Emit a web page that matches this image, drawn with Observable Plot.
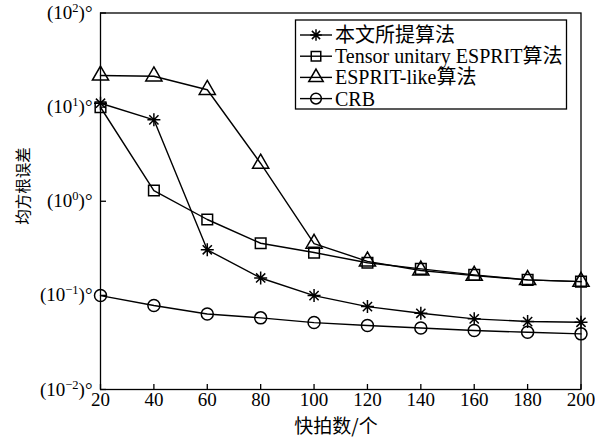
<!DOCTYPE html>
<html><head><meta charset="utf-8">
<script src="https://cdn.jsdelivr.net/npm/d3@7"></script>
<script src="https://cdn.jsdelivr.net/npm/@observablehq/plot@0.6"></script>
<style>
body{margin:0;background:#fff;}
</style></head><body><div id="chart"></div>
<script>
// ---- data ----
const snapshots = [20, 40, 60, 80, 100, 120, 140, 160, 180, 200];
const seriesNames = ["本文所提算法", "Tensor unitary ESPRIT算法", "ESPRIT-like算法", "CRB"];
const proposed      = [11.0, 7.33, 0.305, 0.153, 0.0995, 0.076, 0.0645, 0.0563, 0.0527, 0.0518];
const tensorUnitary = [9.97, 1.30, 0.64, 0.358, 0.285, 0.222, 0.191, 0.165, 0.146, 0.140];
const espritLike    = [21.7, 21.3, 15.3, 2.52, 0.355, 0.230, 0.184, 0.162, 0.146, 0.140];
const crb           = [0.0995, 0.078, 0.0635, 0.0577, 0.0514, 0.0478, 0.0451, 0.0423, 0.0405, 0.039];
const xTicks = [20, 40, 60, 80, 100, 120, 140, 160, 180, 200];
const yTicks = [0.01, 0.1, 1, 10, 100];
const yTickExponents = ["−2", "−1", "0", "1", "2"];
const xLabel = "快拍数/个";
const yLabel = "均方根误差";

// 8-arm asterisk like the MATLAB '*' marker
const asterisk8 = {
  draw(ctx, size) {
    const r = Math.sqrt(size / Math.PI);
    const a = r * 0.7071;
    ctx.moveTo(-r, 0); ctx.lineTo(r, 0);
    ctx.moveTo(0, -r); ctx.lineTo(0, r);
    ctx.moveTo(-a, -a); ctx.lineTo(a, a);
    ctx.moveTo(-a, a); ctx.lineTo(a, -a);
  }
};
const seriesValues = [proposed, tensorUnitary, espritLike, crb];
const seriesSymbols = [asterisk8, d3.symbolSquare, d3.symbolTriangle, d3.symbolCircle];
const seriesR = [6.5, 6.0, 6.0, 6.0];

const series = seriesNames.map((name, k) => ({
  name, symbol: seriesSymbols[k], r: seriesR[k],
  rows: snapshots.map((x, i) => ({x, y: seriesValues[k][i]}))
}));

const font = "'Liberation Serif', 'Times New Roman', 'Noto Sans CJK SC', serif";
const expMap = new Map(yTicks.map((t, i) => [t, yTickExponents[i]]));

const svg = Plot.plot({
  width: 595, height: 439,
  marginLeft: 100, marginRight: 14.5, marginTop: 12.5, marginBottom: 50,
  style: {fontFamily: font, fontSize: "19px", color: "black", background: "white"},
  x: {domain: [20, 200]},
  y: {type: "log", domain: [0.01, 100]},
  marks: [
    Plot.frame({stroke: "black", strokeWidth: 1.3}),
    // inward tick marks
    Plot.axisX({ticks: xTicks, tickSize: 5, dy: -5, fill: "none", label: null, strokeWidth: 1.3}),
    Plot.axisY({ticks: yTicks, tickSize: 6, dx: 6, fill: "none", label: null, strokeWidth: 1.3}),
    // tick labels
    Plot.axisX({ticks: xTicks, tickSize: 0, tickPadding: 3, tickFormat: d => String(d), label: null}),
    Plot.axisY({ticks: yTicks, tickSize: 0, tickPadding: 8, tickFormat: d => expMap.get(d), label: null}),
    ...series.map(s => Plot.line(s.rows, {x: "x", y: "y", stroke: "black", strokeWidth: 1.4})),
    ...series.map(s => Plot.dot(s.rows, {x: "x", y: "y", symbol: s.symbol, r: s.r, fill: "none", stroke: "black", strokeWidth: 1.5}))
  ]
});

// superscript-style y tick labels: (10^n)°
d3.select(svg).selectAll('g[aria-label="y-axis tick label"] text').each(function() {
  const e = this.textContent;
  const t = d3.select(this);
  t.text(null);
  t.append("tspan").text("(10");
  t.append("tspan").attr("dy", -7).style("font-size", "12.5px").text(e);
  t.append("tspan").attr("dy", 7).text(")°");
});

const root = d3.select(svg);
// axis titles
root.append("text").attr("x", 336).attr("y", 424).attr("text-anchor", "middle")
  .attr("dominant-baseline", "central").style("font-size", "19px")
  .style("font-family", "'Noto Sans CJK SC', sans-serif").attr("fill", "black").text(xLabel);
root.append("text").attr("transform", "translate(22,186) rotate(-90)").attr("text-anchor", "middle")
  .attr("dominant-baseline", "central").style("font-size", "15.5px")
  .style("font-family", "'Noto Sans CJK SC', sans-serif").attr("fill", "black").text(yLabel);

// legend
const lg = root.append("g").attr("aria-label", "legend");
lg.append("rect").attr("x", 295.5).attr("y", 20).attr("width", 271).attr("height", 89)
  .attr("fill", "white").attr("stroke", "black").attr("stroke-width", 1.3);
series.forEach((s, k) => {
  const cy = 35 + k * 21.2;
  lg.append("line").attr("x1", 300).attr("x2", 332).attr("y1", cy).attr("y2", cy)
    .attr("stroke", "black").attr("stroke-width", 1.4);
  lg.append("path").attr("transform", `translate(316,${cy})`)
    .attr("d", d3.symbol(s.symbol, Math.PI * s.r * s.r * 0.8)())
    .attr("fill", "none").attr("stroke", "black").attr("stroke-width", 1.5);
  lg.append("text").attr("x", 335).attr("y", cy).attr("dy", "0.35em").attr("text-anchor", "start")
    .style("font-size", "20px").style("font-family", font).attr("fill", "black").text(s.name);
});

document.getElementById("chart").appendChild(svg);
</script>
</body></html>
